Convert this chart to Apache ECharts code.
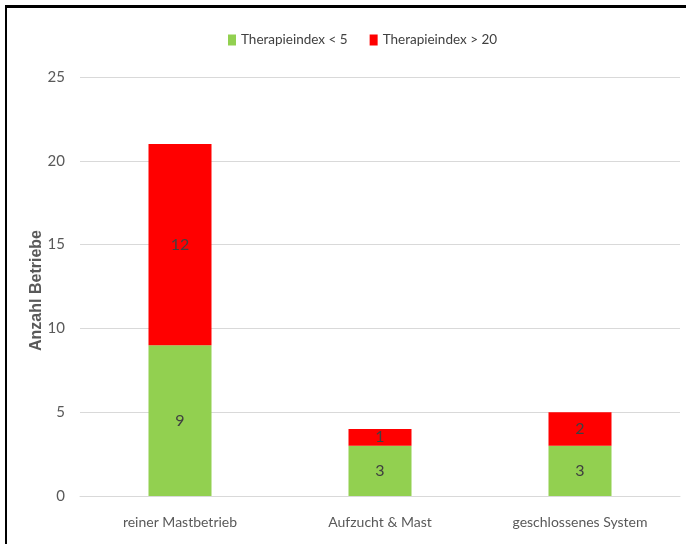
<!DOCTYPE html>
<html><head><meta charset="utf-8">
<script src="https://cdn.jsdelivr.net/npm/echarts@6/dist/echarts.min.js"></script>
<style>html,body{margin:0;padding:0;background:#fff}#c{width:686px;height:544px;position:relative}
#c:before{content:"";position:absolute;left:5px;top:5px;right:0;bottom:0;border-left:2px solid #000;border-top:3px solid #000;z-index:10;pointer-events:none}</style>
</head><body><div id="c"></div>
<script>
const categories = ["reiner Mastbetrieb", "Aufzucht & Mast", "geschlossenes System"];
const seriesNames = ["Therapieindex < 5", "Therapieindex > 20"];
const lowValues = [9, 3, 3];
const highValues = [12, 1, 2];
const yTicks = {min: 0, max: 25, interval: 5};
const font = "Lato, 'Liberation Sans', sans-serif";
const chart = echarts.init(document.getElementById('c'), null, {renderer: 'canvas'});
chart.setOption({
  animation: false,
  textStyle: {fontFamily: font},
  legend: {
    top: 28, left: 223, itemWidth: 8, itemHeight: 11, itemGap: 22,
    icon: 'rect',
    textStyle: {fontFamily: font, fontSize: 13.5, color: '#404040'},
    data: seriesNames
  },
  grid: {left: 80, right: 6, top: 77, bottom: 48},
  xAxis: {
    type: 'category', data: categories,
    axisLine: {lineStyle: {color: '#d9d9d9'}},
    axisTick: {show: false},
    axisLabel: {fontFamily: font, fontSize: 14, color: '#595959', margin: 19}
  },
  yAxis: {
    type: 'value', min: yTicks.min, max: yTicks.max, interval: yTicks.interval,
    name: 'Anzahl Betriebe', nameLocation: 'middle', nameGap: 35, nameMoveOverlap: false,
    nameTextStyle: {fontFamily: "'Liberation Sans', sans-serif", fontSize: 16, fontWeight: 'bold', color: '#595959', padding: [0, 8, 0, 0]},
    axisLine: {show: false}, axisTick: {show: false},
    splitLine: {lineStyle: {color: '#d9d9d9'}},
    axisLabel: {fontFamily: font, fontSize: 15, color: '#595959', margin: 15}
  },
  series: [
    {name: seriesNames[0], type: 'bar', stack: 's', data: lowValues, barWidth: '31.5%',
     itemStyle: {color: '#92D050'},
     label: {show: true, position: 'inside', fontFamily: font, fontSize: 16, color: '#404040'}},
    {name: seriesNames[1], type: 'bar', stack: 's', data: highValues, barWidth: '31.5%',
     itemStyle: {color: '#FF0000'},
     label: {show: true, position: 'inside', fontFamily: font, fontSize: 16, color: '#404040'}}
  ]
});
</script></body></html>
